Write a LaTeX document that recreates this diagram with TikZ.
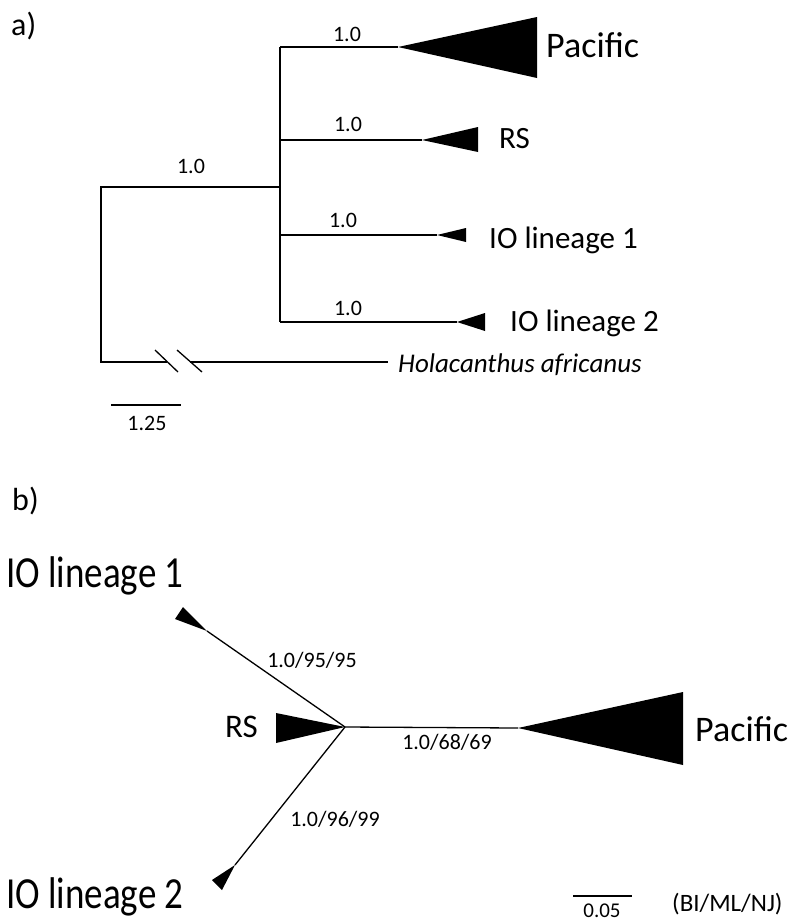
\documentclass[tikz,border=0pt]{standalone}
\usepackage{fontspec}
\usepackage{graphicx}
\setmainfont{Carlito}
\usetikzlibrary{positioning,calc}
\newcommand{\fsz}[1]{\fontsize{#1}{#1}\selectfont}

\begin{document}
\begin{tikzpicture}[x=1pt,y=-1pt,
    branch/.style={line width=1.6pt},
    ubranch/.style={line width=1.3pt},
    clade/.style={fill=black},
    support/.style={inner sep=0pt,anchor=base,font=\fsz{22}},
    taxon/.style={inner sep=0pt,anchor=base west}]
    \useasboundingbox (0,0) rectangle (792,922);

    % a) rooted tree
    \node[taxon,font=\fsz{32}] (labA) at (11,35) {a)};
    \coordinate (root) at (101,187);
    \coordinate (rootout) at (101,362);
    \coordinate (crown) at (280,187);
    \coordinate (crowntop) at (280,47);
    \coordinate (crownrs) at (280,140);
    \coordinate (crownio1) at (280,235);
    \coordinate (crownbot) at (280,322);
    \coordinate (pacA) at (398,47);
    \coordinate (rsA) at (422,140);
    \coordinate (io1A) at (437,235);
    \coordinate (io2A) at (457,322);
    \coordinate (brkL) at (167,362);
    \coordinate (brkR) at (190,362);
    \coordinate (outA) at (388,362);
    \draw[branch] (crown) -- (root) -- (rootout) -- (brkL);
    \draw[branch] (brkR) -- (outA);
    \draw[branch] (crowntop) -- (crownbot);
    \draw[branch] (crowntop) -- (pacA);
    \draw[branch] (crownrs) -- (rsA);
    \draw[branch] (crownio1) -- (io1A);
    \draw[branch] (crownbot) -- (io2A);
    \draw[line width=1.3pt] (155,350) -- (178,372) (177,350) -- (202,372); % break
    \fill[clade] (pacA) -- (537,17) -- (537,78) -- cycle;
    \fill[clade] (rsA) -- (478,127) -- (478,152) -- cycle;
    \fill[clade] (io1A) -- (466,228) -- (466,242) -- cycle;
    \fill[clade] (io2A) -- (485,313) -- (485,331) -- cycle;
    \node[support] (sRoot) at (191,173) {1.0};
    \node[support] (sPacA) at (347,41) {1.0};
    \node[support] (sRsA) at (348,131) {1.0};
    \node[support] (sIo1A) at (343,227) {1.0};
    \node[support] (sIo2A) at (348,315) {1.0};
    \node[taxon,font=\fsz{36}] (tPacA) at (546,57) {Pacific};
    \node[taxon,font=\fsz{31}] (tRsA) at (499,148) {RS};
    \node[taxon,font=\fsz{31}] (tIo1A) at (489,248) {IO lineage 1};
    \node[taxon,font=\fsz{31}] (tIo2A) at (510,331) {IO lineage 2};
    \node[taxon,font=\fsz{27}\itshape] (tOut) at (398,372) {Holacanthus africanus};
    \coordinate (scaleAl) at (111,405);
    \coordinate (scaleAr) at (181,405);
    \draw[line width=1.3pt] (scaleAl) -- (scaleAr);
    \node[support] (tScaleA) at (147,430) {1.25};

    % b) unrooted tree
    \node[taxon,font=\fsz{32}] (labB) at (12,510) {b)};
    \coordinate (hub) at (345,727);
    \coordinate (pacB) at (518,728);
    \coordinate (io1B) at (207,631);
    \coordinate (io2B) at (235,865);
    \draw[ubranch] (hub) -- (pacB);
    \draw[ubranch] (hub) -- (io1B);
    \draw[ubranch] (hub) -- (io2B);
    \fill[clade] (pacB) -- (683,692) -- (683,765) -- cycle;
    \fill[clade] (hub) -- (276,713) -- (276,743) -- cycle;
    \fill[clade] (io1B) -- (183,607) -- (175,619) -- cycle;
    \fill[clade] (io2B) -- (212,880) -- (222,890) -- cycle;
    \node[support] (sIo1B) at (312,667) {1.0/95/95};
    \node[support] (sPacB) at (447,749) {1.0/68/69};
    \node[support] (sIo2B) at (335,826) {1.0/96/99};
    \node[taxon,font=\fsz{33}] (tRsB) at (225,737) {RS};
    \node[taxon,font=\fsz{36}] (tPacB) at (695,741) {Pacific};
    \node[taxon,font=\fsz{37}] (tIo1B) at (6,587) {\scalebox{1}[1.2]{IO lineage 1}};
    \node[taxon,font=\fsz{37}] (tIo2B) at (6,908) {\scalebox{1}[1.2]{IO lineage 2}};
    \coordinate (scaleBl) at (573,896);
    \coordinate (scaleBr) at (632,896);
    \draw[line width=1.3pt] (scaleBl) -- (scaleBr);
    \node[support,font=\fsz{21}] (tScaleB) at (602,917) {0.05};
    \node[taxon,font=\fsz{25}] (tMethods) at (672,911) {(BI/ML/NJ)};
\end{tikzpicture}
\end{document}
